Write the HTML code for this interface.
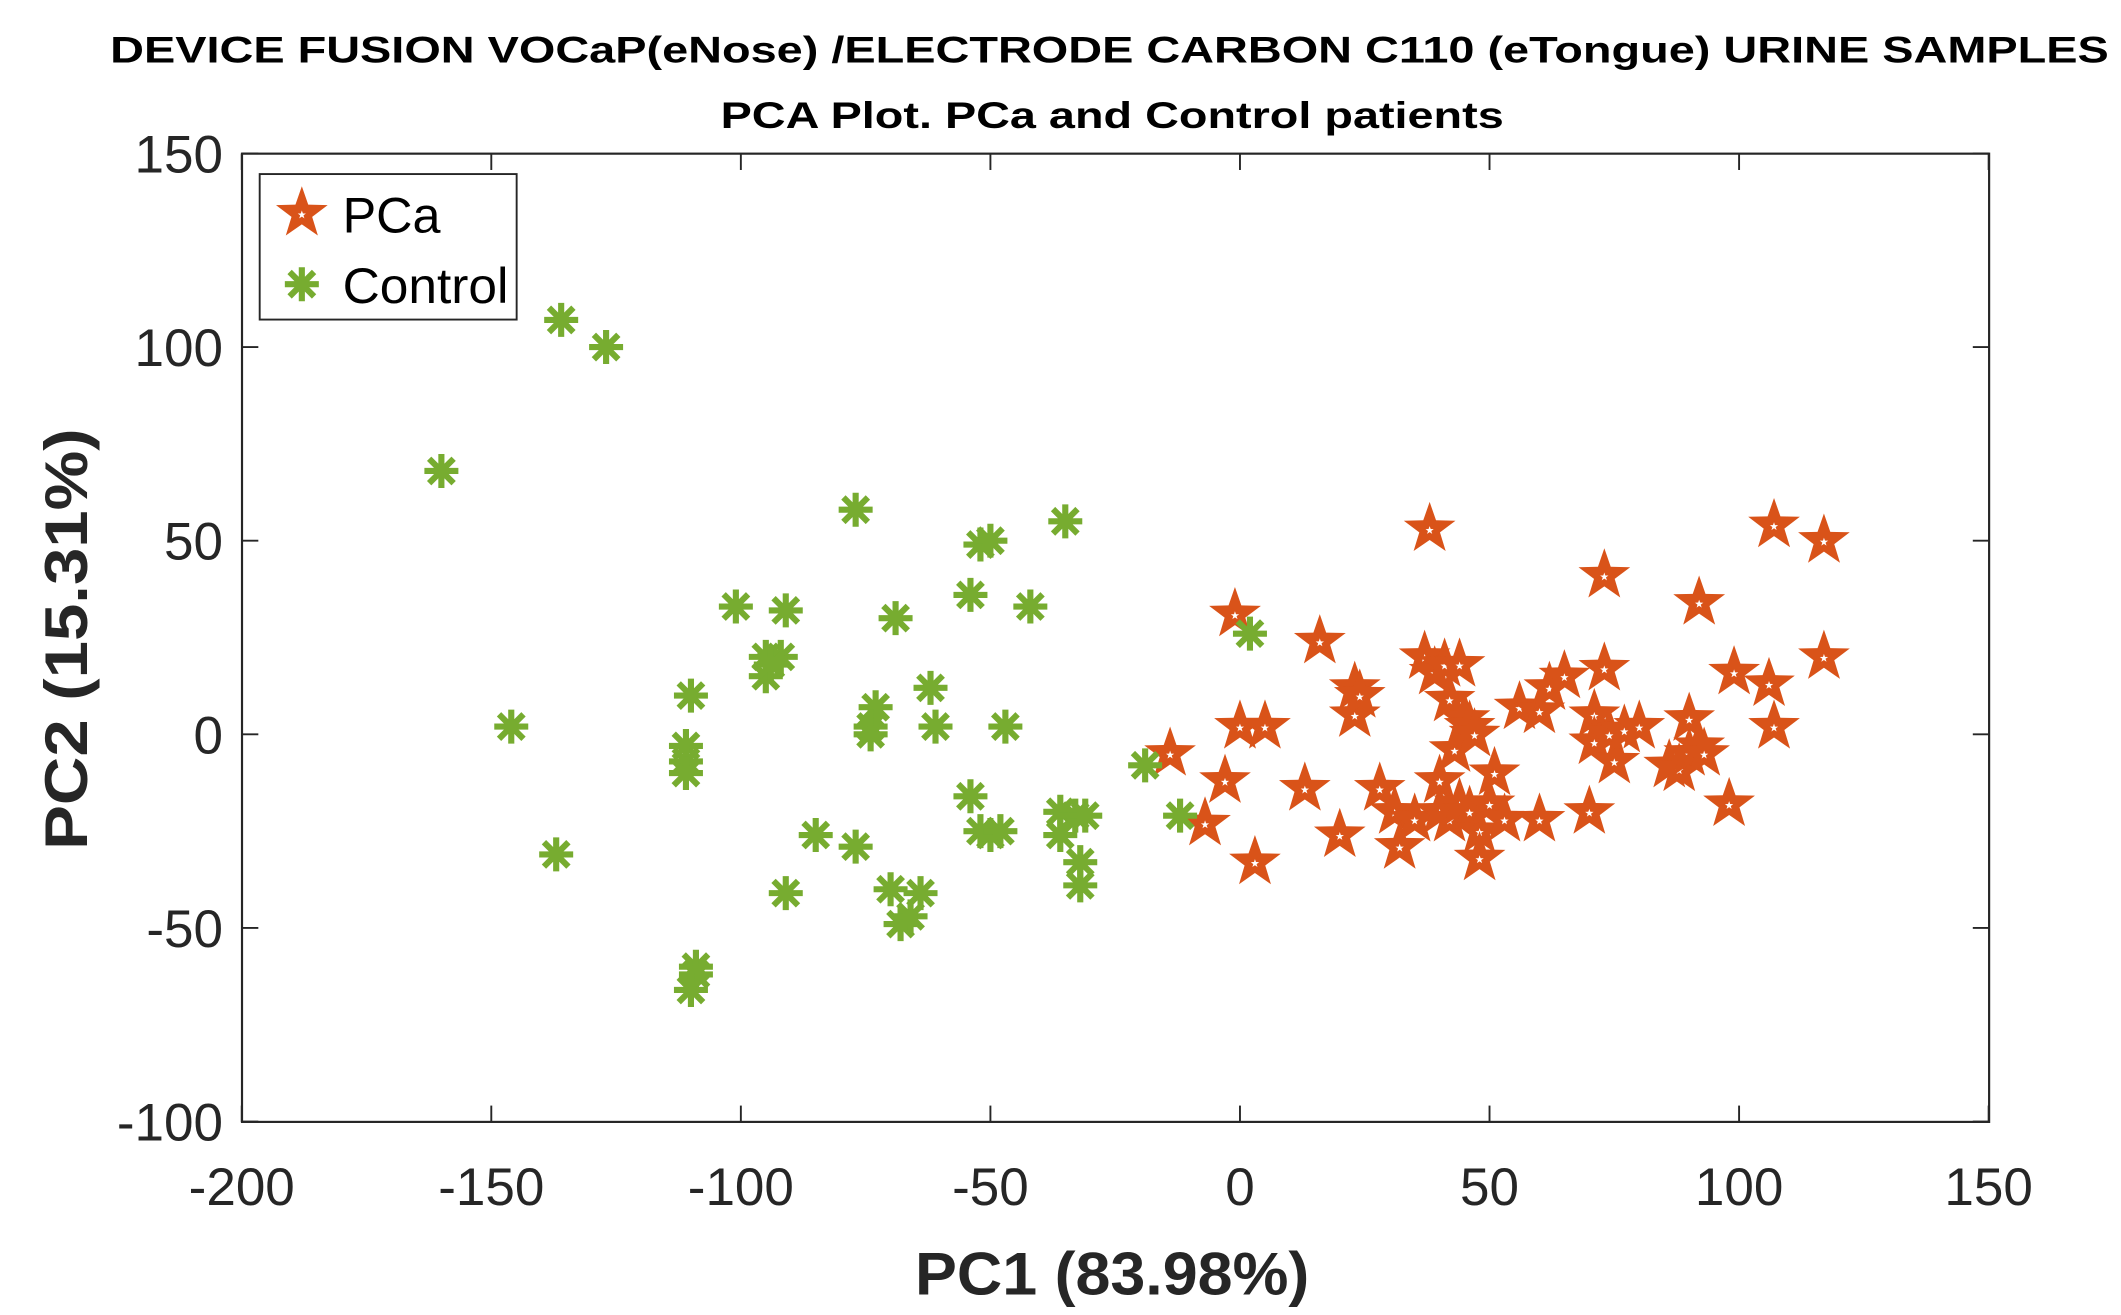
<!DOCTYPE html>
<html><head><meta charset="utf-8"><style>
html,body{margin:0;padding:0;background:#fff;}
svg{display:block;}
</style></head><body>
<svg id="s" width="2121" height="1315" viewBox="0 0 1560 967" preserveAspectRatio="none" xmlns="http://www.w3.org/2000/svg" font-family="Liberation Sans, Arial, sans-serif">
<rect x="0" y="0" width="1560" height="967" fill="#fff"/>
<text x="816" y="46" text-anchor="middle" font-size="27" font-weight="bold" fill="#000" textLength="1470" lengthAdjust="spacingAndGlyphs">DEVICE FUSION VOCaP(eNose) /ELECTRODE CARBON C110 (eTongue) URINE SAMPLES</text>
<text x="818" y="94" text-anchor="middle" font-size="27" font-weight="bold" fill="#000" textLength="576" lengthAdjust="spacingAndGlyphs">PCA Plot. PCa and Control patients</text>
<g id="pts"></g>
<rect x="178" y="113" width="1285" height="712" fill="none" stroke="#262626" stroke-width="1.6"/>
<g id="ticks" stroke="#262626" stroke-width="1.4"></g>
<g id="lbl" font-size="39" fill="#262626"></g>
<text x="818" y="952" text-anchor="middle" font-size="44" font-weight="bold" fill="#262626" textLength="290" lengthAdjust="spacingAndGlyphs">PC1 (83.98%)</text>
<text transform="translate(64,470) rotate(-90)" text-anchor="middle" font-size="44" font-weight="bold" fill="#262626" textLength="310" lengthAdjust="spacingAndGlyphs">PC2 (15.31%)</text>
<rect x="191" y="128" width="189" height="107" fill="#fff" stroke="#262626" stroke-width="1.4"/>
<g id="leg"></g>
<text x="252" y="171" font-size="37" fill="#000">PCa</text>
<text x="252" y="223" font-size="37" fill="#000" textLength="122" lengthAdjust="spacingAndGlyphs">Control</text>
</svg>
<script>
var X=function(v){return 912+v*3.671;},Y=function(v){return 540-v*2.848;};
var ns="http://www.w3.org/2000/svg";
function el(t,a,p){var e=document.createElementNS(ns,t);for(var k in a)e.setAttribute(k,a[k]);p.appendChild(e);return e;}
function starPts(cx,cy,R){var r=R*0.4,s=[];for(var i=0;i<10;i++){var a=-Math.PI/2+i*Math.PI/5,rr=i%2?r:R;s.push((cx+rr*Math.cos(a)).toFixed(1)+","+(cy+rr*Math.sin(a)).toFixed(1));}return s.join(" ");}
function star(cx,cy,g){el("polygon",{points:starPts(cx,cy,20),fill:"#D95319"},g);el("polygon",{points:starPts(cx,cy+1,3.2),fill:"#fff"},g);}
function ast(cx,cy,g){var R=12.5,d=R*0.72;var p="M"+(cx-R)+" "+cy+"H"+(cx+R)+"M"+cx+" "+(cy-R)+"V"+(cy+R)+"M"+(cx-d)+" "+(cy-d)+"L"+(cx+d)+" "+(cy+d)+"M"+(cx-d)+" "+(cy+d)+"L"+(cx+d)+" "+(cy-d);el("path",{d:p,stroke:"#77AC30","stroke-width":4.5,fill:"none"},g);}
var pc=[[-1,31],[-14,-5],[-7,-23],[-3,-12],[0,2],[5,2],[3,-33],[16,24],[13,-14],[20,-26],[23,12],[23,5],[24,10],[28,-14],[31,-20],[32,-29],[35,-22],[38,53],[37,20],[39,16],[41,18],[44,18],[42,9],[43,-4],[45,4],[46,2],[47,0],[40,-12],[40,-20],[42,-22],[44,-18],[46,-20],[48,-25],[48,-32],[51,-10],[50,-18],[53,-22],[56,7],[60,6],[62,12],[65,15],[60,-22],[70,-20],[73,41],[73,17],[71,5],[71,-2],[74,0],[75,-7],[77,1],[80,2],[86,-8],[88,-9],[90,4],[92,34],[90,-5],[92,-3],[93,-5],[98,-18],[99,16],[106,13],[107,54],[107,2],[117,50],[117,20]];
var ct=[[-160,68],[-136,107],[-127,100],[-146,2],[-137,-31],[-110,10],[-111,-3],[-111,-7],[-111,-10],[-109,-60],[-109,-62],[-110,-66],[-101,33],[-91,32],[-95,20],[-95,15],[-92,20],[-94,18],[-91,-41],[-85,-26],[-77,58],[-77,-29],[-73,7],[-74,2],[-74,0],[-70,-40],[-69,30],[-68,-49],[-66,-47],[-64,-41],[-62,12],[-61,2],[-54,36],[-54,-16],[-52,49],[-50,50],[-52,-25],[-50,-26],[-48,-25],[-47,2],[-42,33],[-35,55],[-36,-20],[-36,-26],[-33,-21],[-31,-21],[-32,-33],[-32,-39],[-19,-8],[-12,-21],[2,26]];
var g=document.getElementById("pts");
pc.forEach(function(p){star(X(p[0]),Y(p[1]),g);});
ct.forEach(function(p){ast(X(p[0]),Y(p[1]),g);});
var lg=document.getElementById("leg");star(222,157,lg);ast(222,209,lg);
var tk=document.getElementById("ticks"),lb=document.getElementById("lbl");
for(var v=-200;v<=150;v+=50){var x=X(v);el("line",{x1:x,y1:825,x2:x,y2:813},tk);el("line",{x1:x,y1:113,x2:x,y2:125},tk);var t=el("text",{x:x,y:886,"text-anchor":"middle"},lb);t.textContent=v;}
for(var v=-100;v<=150;v+=50){var y=Y(v);el("line",{x1:178,y1:y,x2:190,y2:y},tk);el("line",{x1:1463,y1:y,x2:1451,y2:y},tk);var t=el("text",{x:164,y:y+14,"text-anchor":"end"},lb);t.textContent=v;}
</script>
</body></html>
